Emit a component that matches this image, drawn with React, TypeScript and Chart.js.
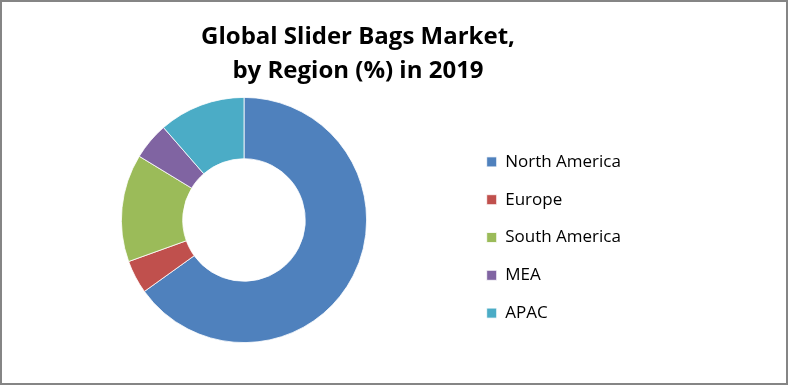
import React, { useEffect, useRef } from "react";
import { Chart, registerables } from "chart.js";

Chart.register(...registerables);

const titleLines = ["Global Slider Bags Market,", "by Region (%) in 2019"];
const regions = ["North America", "Europe", "South America", "MEA", "APAC"];
const shares = [65.1, 4.4, 14.2, 4.9, 11.4];
const sliceColors = ["#4F81BD", "#C0504D", "#9BBB59", "#8064A2", "#4BACC6"];

const FONT = "'Open Sans', Lato, sans-serif";
const LEGEND_SIZE = 17;
const LEGEND_PAD = 20.8;
const BOX = 10;

export default function App() {
  const ref = useRef<HTMLCanvasElement | null>(null);

  useEffect(() => {
    if (!ref.current) return;
    const mctx = document.createElement("canvas").getContext("2d")!;
    mctx.font = `${LEGEND_SIZE}px ${FONT}`;
    const maxText = Math.max(...regions.map((r) => mctx.measureText(r).width));
    const colWidth = BOX + LEGEND_SIZE / 2 + maxText;
    const spacer = Math.max(197.2 - colWidth, 0);

    const chart = new Chart(ref.current, {
      type: "doughnut",
      data: {
        labels: regions,
        datasets: [
          {
            data: shares,
            backgroundColor: sliceColors,
            borderColor: "#ffffff",
            borderWidth: 0.8,
          },
        ],
      },
      options: {
        responsive: false,
        animation: false,
        cutout: "50%",
        layout: { padding: { left: 20.1, right: 92.1, top: 0, bottom: 40 } },
        plugins: {
          tooltip: { enabled: false },
          title: {
            display: true,
            text: titleLines,
            color: "#000000",
            font: { family: FONT, size: 24, weight: "bold", lineHeight: "34px" },
            padding: { top: 18, bottom: 9 },
          },
          subtitle: {
            display: true,
            position: "right",
            text: " ",
            font: { size: 10, lineHeight: `${spacer}px` },
            padding: 0,
          },
          legend: {
            display: true,
            position: "right",
            fullSize: false,
            align: "center",
            title: {
              display: true,
              text: " ",
              font: { size: 10, lineHeight: "15px" },
              padding: 10,
            },
            labels: {
              boxWidth: BOX,
              boxHeight: BOX,
              padding: LEGEND_PAD,
              color: "#000000",
              font: { family: FONT, size: LEGEND_SIZE },
            },
          },
        },
      },
    });
    return () => chart.destroy();
  }, []);

  return (
    <div
      style={{
        position: "absolute",
        left: 0,
        top: 0,
        width: 788,
        height: 385,
        boxSizing: "border-box",
        border: "2px solid #858585",
        background: "#ffffff",
      }}
    >
      <canvas ref={ref} width={784} height={381} style={{ display: "block" }} />
    </div>
  );
}
